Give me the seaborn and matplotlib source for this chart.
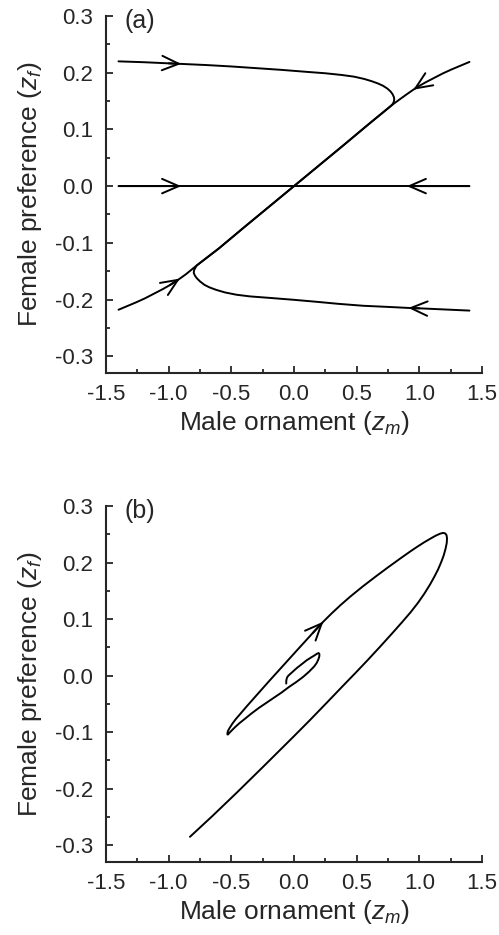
import numpy as np
import pandas as pd
import matplotlib
matplotlib.use("Agg")
import matplotlib.pyplot as plt
import seaborn as sns
from matplotlib.ticker import MultipleLocator, FormatStrFormatter

# trajectories: (male ornament z_m, female preference z_f), in flow order
# panel (a)
a_top_x = [-1.40, -1.20, -1.00, -0.90, -0.70, -0.50, -0.30, -0.10, 0.10, 0.25, 0.38, 0.48,
           0.56, 0.62, 0.67, 0.71, 0.745, 0.77, 0.787, 0.797, 0.800, 0.797, 0.788, 0.775,
           0.76, 0.60, 0.40, 0.20, 0.0]
a_top_y = [0.220, 0.2185, 0.2165, 0.2155, 0.2135, 0.211, 0.208, 0.205, 0.2015, 0.199, 0.196, 0.193,
           0.189, 0.185, 0.181, 0.177, 0.172, 0.167, 0.162, 0.157, 0.153, 0.149, 0.145, 0.142,
           0.139, 0.110, 0.073, 0.0365, 0.0]
a_upright_x = [1.40, 1.33, 1.26, 1.19, 1.12, 1.05, 0.99, 0.952, 0.90, 0.85, 0.80, 0.76,
               0.60, 0.40, 0.20, 0.0]
a_upright_y = [0.219, 0.2125, 0.206, 0.199, 0.191, 0.183, 0.1755, 0.170, 0.162, 0.154, 0.146, 0.139,
               0.110, 0.073, 0.0365, 0.0]
a_lowleft_x = [-1.40, -1.33, -1.26, -1.19, -1.12, -1.05, -0.99, -0.91, -0.86, -0.81, -0.777,
               -0.60, -0.40, -0.20, 0.0]
a_lowleft_y = [-0.218, -0.2115, -0.205, -0.198, -0.190, -0.182, -0.1745, -0.163, -0.155, -0.146, -0.140,
               -0.110, -0.073, -0.0365, 0.0]
a_bottom_x = [1.40, 1.20, 1.00, 0.912, 0.75, 0.553, 0.35, 0.181, 0.0, -0.20, -0.35, -0.46,
              -0.55, -0.62, -0.675, -0.715, -0.75, -0.775, -0.79, -0.80, -0.797, -0.788, -0.776,
              -0.60, -0.40, -0.20, 0.0]
a_bottom_y = [-0.2195, -0.2175, -0.2155, -0.2148, -0.213, -0.211, -0.2075, -0.204, -0.2005, -0.197, -0.1945, -0.1915,
              -0.1875, -0.183, -0.1785, -0.174, -0.168, -0.1625, -0.158, -0.153, -0.148, -0.1445, -0.140,
              -0.110, -0.073, -0.0365, 0.0]
a_zero_left_x = [-1.40, -0.90, 0.0]
a_zero_left_y = [0.0, 0.0, 0.0]
a_zero_right_x = [1.40, 0.90, 0.0]
a_zero_right_y = [0.0, 0.0, 0.0]

# z_m value of the point where each arrow head sits
a_curves = [
    (a_top_x, a_top_y, -0.90),
    (a_upright_x, a_upright_y, 0.952),
    (a_lowleft_x, a_lowleft_y, -0.91),
    (a_bottom_x, a_bottom_y, 0.912),
    (a_zero_left_x, a_zero_left_y, -0.90),
    (a_zero_right_x, a_zero_right_y, 0.90),
]

# panel (b): one outward spiral starting near the origin
b_x = [-0.062, -0.061, -0.055, -0.045, -0.020, 0.020, 0.060, 0.100, 0.135, 0.165, 0.185, 0.197,
       0.203, 0.202, 0.195, 0.180, 0.160, 0.120, 0.074, 0.020, -0.040, -0.100, -0.160, -0.220,
       -0.280, -0.340, -0.390, -0.435, -0.470, -0.497, -0.515, -0.526, -0.531, -0.531, -0.525,
       -0.512, -0.492, -0.465, -0.430, -0.380, -0.300, -0.200, -0.110, 0.000, 0.074, 0.150,
       0.234, 0.300, 0.370, 0.450, 0.550, 0.650, 0.750, 0.850, 0.930, 0.980, 1.040, 1.090,
       1.130, 1.165, 1.190, 1.207, 1.217, 1.221, 1.219, 1.210, 1.195, 1.175, 1.150, 1.120,
       1.085, 1.040, 0.990, 0.930, 0.860, 0.780, 0.686, 0.590, 0.487, 0.380, 0.261, 0.130,
       0.000, -0.100, -0.250, -0.457, -0.650, -0.830]
b_y = [-0.014, -0.008, -0.003, 0.000, 0.005, 0.013, 0.020, 0.027, 0.032, 0.036, 0.039, 0.040,
       0.038, 0.034, 0.029, 0.022, 0.016, 0.007, -0.002, -0.011, -0.020, -0.030, -0.039, -0.048,
       -0.057, -0.067, -0.076, -0.084, -0.091, -0.097, -0.101, -0.104, -0.104, -0.101, -0.097,
       -0.092, -0.085, -0.077, -0.068, -0.055, -0.035, -0.010, 0.012, 0.039, 0.057, 0.0755,
       0.0955, 0.110, 0.1245, 0.140, 0.158, 0.175, 0.1915, 0.2075, 0.220, 0.2275, 0.236, 0.2425,
       0.2475, 0.251, 0.2525, 0.2515, 0.2485, 0.243, 0.235, 0.225, 0.213, 0.201, 0.188, 0.175,
       0.161, 0.145, 0.129, 0.112, 0.094, 0.074, 0.051, 0.028, 0.004, -0.0205, -0.048, -0.078,
       -0.107, -0.129, -0.162, -0.207, -0.248, -0.285]
b_arrow_x = 0.234

x_ticks = [-1.5, -1.0, -0.5, 0.0, 0.5, 1.0, 1.5]
y_ticks = [-0.3, -0.2, -0.1, 0.0, 0.1, 0.2, 0.3]

sns.set_style("ticks")
plt.rcParams["font.family"] = ["Liberation Sans", "DejaVu Sans"]
plt.rcParams["mathtext.fontset"] = "custom"
plt.rcParams["mathtext.rm"] = "Liberation Sans"
plt.rcParams["mathtext.it"] = "Liberation Sans:italic"
plt.rcParams["axes.unicode_minus"] = False
plt.rcParams["lines.solid_joinstyle"] = "round"

fig = plt.figure(figsize=(4.99, 9.35), dpi=100)
ax_a = fig.add_axes([0.2124, 0.6014, 0.7535, 0.3815])
ax_b = fig.add_axes([0.2124, 0.0784, 0.7535, 0.3804])

LW = 1.4


def draw_curve(ax, xs, ys, arrow_x=None):
    df = pd.DataFrame({"zm": xs, "zf": ys})
    sns.lineplot(data=df, x="zm", y="zf", ax=ax, sort=False, estimator=None,
                 color="black", lw=LW)
    if arrow_x is not None:
        i = xs.index(arrow_x)
        ax.annotate("", xy=(xs[i], ys[i]), xytext=(xs[i - 1], ys[i - 1]),
                    arrowprops=dict(arrowstyle="->,head_length=0.6,head_width=0.26",
                                    color="black", lw=LW, shrinkA=0, shrinkB=0,
                                    mutation_scale=20))


for xs, ys, ax_x in a_curves:
    draw_curve(ax_a, xs, ys, ax_x)
draw_curve(ax_b, b_x, b_y, b_arrow_x)

for ax, tag in [(ax_a, "(a)"), (ax_b, "(b)")]:
    ax.set_xlim(-1.5, 1.5)
    ax.set_ylim(-0.329, 0.3)
    ax.set_xticks(x_ticks)
    ax.set_yticks(y_ticks)
    ax.xaxis.set_minor_locator(MultipleLocator(0.25))
    ax.yaxis.set_minor_locator(MultipleLocator(0.05))
    ax.xaxis.set_major_formatter(FormatStrFormatter("%.1f"))
    ax.yaxis.set_major_formatter(FormatStrFormatter("%.1f"))
    ax.tick_params(which="major", direction="in", length=5, width=1.3, labelsize=16, pad=8)
    ax.tick_params(which="minor", direction="in", length=3, width=1.3)
    ax.tick_params(axis="y", which="major", pad=9)
    for s in ["top", "right"]:
        ax.spines[s].set_visible(False)
    for s in ["left", "bottom"]:
        ax.spines[s].set_linewidth(1.5)
    ax.set_xlabel("Male ornament ($z_m$)", fontsize=19, labelpad=3)
    ax.set_ylabel("Female preference ($z_f$)", fontsize=19, labelpad=8)
    ax.text(0.05, 0.986, tag, transform=ax.transAxes, fontsize=18, va="center", ha="left")

fig.savefig("out.png", dpi=100)
